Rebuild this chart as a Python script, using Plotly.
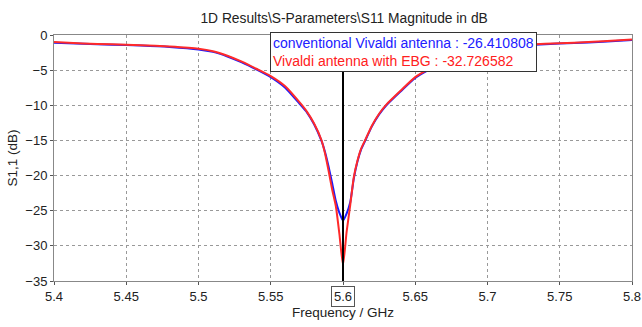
import plotly.graph_objects as go

freq = [5.40, 5.42, 5.44, 5.46, 5.48, 5.50, 5.51, 5.52, 5.53, 5.54, 5.55, 5.56, 5.57,
        5.575, 5.58, 5.585, 5.5875, 5.59, 5.5925, 5.595, 5.5975, 5.6, 5.6025, 5.605,
        5.6075, 5.61, 5.6125, 5.615, 5.62, 5.625, 5.63, 5.64, 5.65, 5.66, 5.67, 5.68,
        5.70, 5.72, 5.74, 5.76, 5.78, 5.80]

conventional = [-1.1, -1.25, -1.38, -1.5, -1.7, -2.05, -2.4, -3.05, -3.9, -4.9, -6.0, -7.5, -9.8,
                -11.0, -12.7, -15.0, -16.6, -18.7, -21.1, -23.6, -25.3, -26.410808, -25.4, -23.8,
                -20.4, -18.0, -16.3, -15.2, -13.0, -11.3, -10.0, -8.0, -6.1, -4.9, -3.9, -3.1,
                -2.1, -1.55, -1.3, -1.15, -0.95, -0.7]

ebg = [-1.0, -1.2, -1.33, -1.45, -1.65, -1.95, -2.3, -2.95, -3.8, -4.8, -5.85, -7.3, -9.6,
       -10.9, -12.6, -14.9, -16.8, -19.3, -22.0, -24.3, -28.3, -32.726582, -28.0, -24.2,
       -20.2, -17.9, -16.2, -15.1, -12.9, -11.2, -9.9, -7.9, -6.0, -4.8, -3.8, -3.0,
       -2.0, -1.5, -1.25, -1.1, -0.9, -0.65]

x_ticks = [5.4, 5.45, 5.5, 5.55, 5.6, 5.65, 5.7, 5.75, 5.8]
x_tick_text = ["5.4", "5.45", "5.5", "5.55", "", "5.65", "5.7", "5.75", "5.8"]
y_ticks = [0, -5, -10, -15, -20, -25, -30, -35]

marker_x = 5.6
font = "Liberation Sans"

fig = go.Figure()
fig.add_trace(go.Scatter(x=freq, y=conventional, mode="lines",
                         line=dict(color="#1a1aff", width=2, shape="spline", smoothing=0.6),
                         name="conventional Vivaldi antenna"))
fig.add_trace(go.Scatter(x=freq, y=ebg, mode="lines",
                         line=dict(color="#ff2a2a", width=2, shape="spline", smoothing=0.6),
                         name="Vivaldi antenna with EBG"))

fig.add_shape(type="line", x0=marker_x, x1=marker_x, y0=0, y1=-35, xref="x", yref="y",
              line=dict(color="black", width=2))

fig.add_annotation(x=marker_x, y=0, xref="x", yref="paper", yanchor="top", yshift=-5,
                   text="5.6", showarrow=False, font=dict(family=font, size=13, color="#222"),
                   bordercolor="#555", borderwidth=1, borderpad=2, bgcolor="white")

fig.add_annotation(x=0.3737, y=1.012, xref="paper", yref="paper", xanchor="left", yanchor="top",
                   align="left", showarrow=False,
                   text=("<span style='color:#2020ff'>conventional Vivaldi antenna : -26.410808</span><br>"
                         "<span style='color:#ff2020'>Vivaldi antenna with EBG : -32.726582</span>"),
                   font=dict(family=font, size=14), bgcolor="white", bordercolor="#333",
                   borderwidth=1, borderpad=2)

fig.update_layout(
    width=642, height=327,
    margin=dict(l=54, r=10, t=35, b=46, autoexpand=False),
    paper_bgcolor="white", plot_bgcolor="white",
    showlegend=False,
    title=dict(text="1D Results\\S-Parameters\\S11 Magnitude in dB", x=0.536, xanchor="center",
               y=1 - 18 / 327, yanchor="middle", font=dict(family=font, size=13.8, color="#222")),
    font=dict(family=font, size=13, color="#222"),
)
fig.update_xaxes(range=[5.4, 5.8], tickvals=x_ticks, ticktext=x_tick_text, automargin=False,
                 ticklabeloverflow="allow",
                 showgrid=True, gridcolor="#999", griddash="dot", gridwidth=1,
                 showline=True, linecolor="#888", mirror=True, ticks="outside", ticklen=3,
                 tickcolor="#555", title=dict(text="Frequency / GHz", standoff=4,
                                              font=dict(family=font, size=13.5)),
                 zeroline=False)
fig.update_yaxes(range=[-35, 0], tickvals=y_ticks, automargin=False,
                 ticklabeloverflow="allow",
                 showgrid=True, gridcolor="#999", griddash="dot", gridwidth=1,
                 showline=True, linecolor="#888", mirror=True, ticks="outside", ticklen=3,
                 tickcolor="#555", title=dict(text="S1,1 (dB)", standoff=4,
                                              font=dict(family=font, size=13.5)),
                 zeroline=False)

fig.write_html("out.html", config={"displayModeBar": False},
               post_script="document.body.style.margin='0';"
                           "document.documentElement.style.overflow='hidden';")
